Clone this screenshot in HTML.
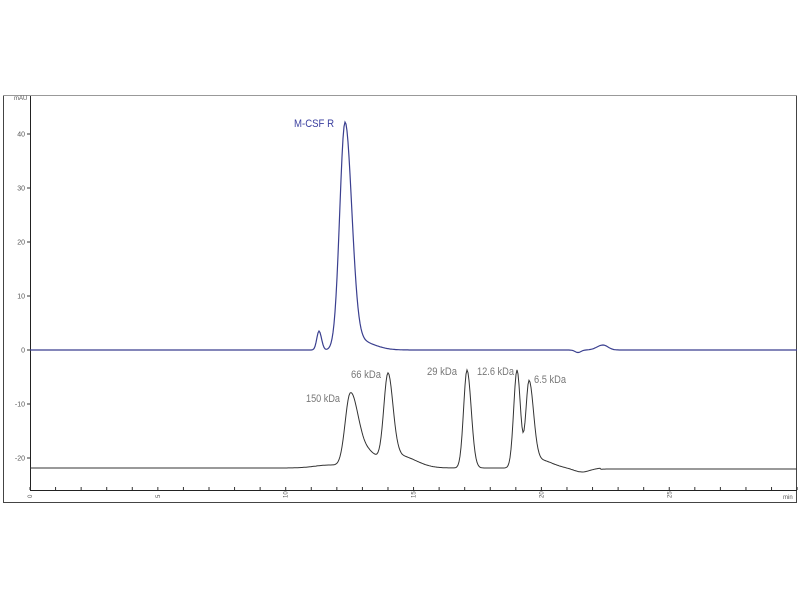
<!DOCTYPE html>
<html><head><meta charset="utf-8"><style>
body{margin:0;background:#fff;}
svg{display:block;font-family:"Liberation Sans",sans-serif;}
</style></head><body>
<svg id="s" width="800" height="600" xmlns="http://www.w3.org/2000/svg">
<rect x="3.5" y="95.5" width="793" height="407" fill="#fff" stroke="#444" stroke-width="1"/>
<line x1="3" y1="95.5" x2="797" y2="95.5" stroke="#999"/>
<line x1="30.5" y1="96" x2="30.5" y2="490" stroke="#222"/>
<line x1="30" y1="490.5" x2="797" y2="490.5" stroke="#222"/>
<text x="14" y="100" font-size="6" fill="#555">mAU</text>
<g id="yt" font-size="7" fill="#555" text-anchor="end"></g>
<g id="xt" font-size="7" fill="#555"></g>
<path id="blue" fill="none" stroke="#3a3f8f" stroke-width="1.2"/>
<path id="black" fill="none" stroke="#333" stroke-width="1"/>
<text x="294" y="127" font-size="11" fill="#3a3f9f" textLength="40" lengthAdjust="spacingAndGlyphs">M-CSF R</text>
<g font-size="11" fill="#777">
<text x="306" y="402" textLength="34" lengthAdjust="spacingAndGlyphs">150 kDa</text>
<text x="351" y="378" textLength="30" lengthAdjust="spacingAndGlyphs">66 kDa</text>
<text x="427" y="375" textLength="30" lengthAdjust="spacingAndGlyphs">29 kDa</text>
<text x="477" y="375" textLength="37" lengthAdjust="spacingAndGlyphs">12.6 kDa</text>
<text x="534" y="383" textLength="32" lengthAdjust="spacingAndGlyphs">6.5 kDa</text>
</g>
</svg>
<script>
var NS="http://www.w3.org/2000/svg";
function el(t,a,p,txt){var e=document.createElementNS(NS,t);for(var k in a)e.setAttribute(k,a[k]);if(txt!=null)e.textContent=txt;p.appendChild(e);return e;}
var yt=document.getElementById('yt'),xt=document.getElementById('xt'),s=document.getElementById('s');
[40,30,20,10,0,-10,-20].forEach(function(v){var y=350-v*5.4;el('line',{x1:27,y1:y,x2:30,y2:y,stroke:'#333'},s);el('text',{x:25,y:y+2.5},yt,v);});
for(var m=0;m<=30;m++){var x=30+m*25.57;el('line',{x1:x,y1:487,x2:x,y2:490,stroke:'#333'},s);
if(m%5==0&&m<30)el('text',{x:x+2,y:498,transform:'rotate(-90 '+(x+2)+' 498)','font-size':6},xt,m);}
el('text',{x:783,y:499,'font-size':6},xt,'min');
function pk(x,c,a,sl,sr){var s=x<c?sl:sr;return a*Math.exp(-0.5*((x-c)/s)*((x-c)/s));}
var b='',k='';
for(var x=30;x<=797;x+=1){
 var yb=350-pk(x,345,226,5.3,6.6)-pk(x,319,19,2.2,2.5)-pk(x,356,10,6,16)-pk(x,603,5,6,5)+pk(x,578,2.5,3,3);
 b+=(x==30?'M':'L')+x+' '+yb.toFixed(1);
 var yk=468-pk(x,350,68,5,7)-pk(x,362,20,8,14)-pk(x,388,90,4.2,5)-pk(x,400,12,6,16)-pk(x,467,98,3.4,4.2)-pk(x,517,98,3.3,3.4)-pk(x,529,86,3.2,4.5)-pk(x,540,8,6,12)-pk(x,330,3,15,10)+pk(x,582,4,8,8)+(x>600?1:0);
 k+=(x==30?'M':'L')+x+' '+yk.toFixed(1);
}
document.getElementById('blue').setAttribute('d',b);
document.getElementById('black').setAttribute('d',k);
</script>
</body></html>
